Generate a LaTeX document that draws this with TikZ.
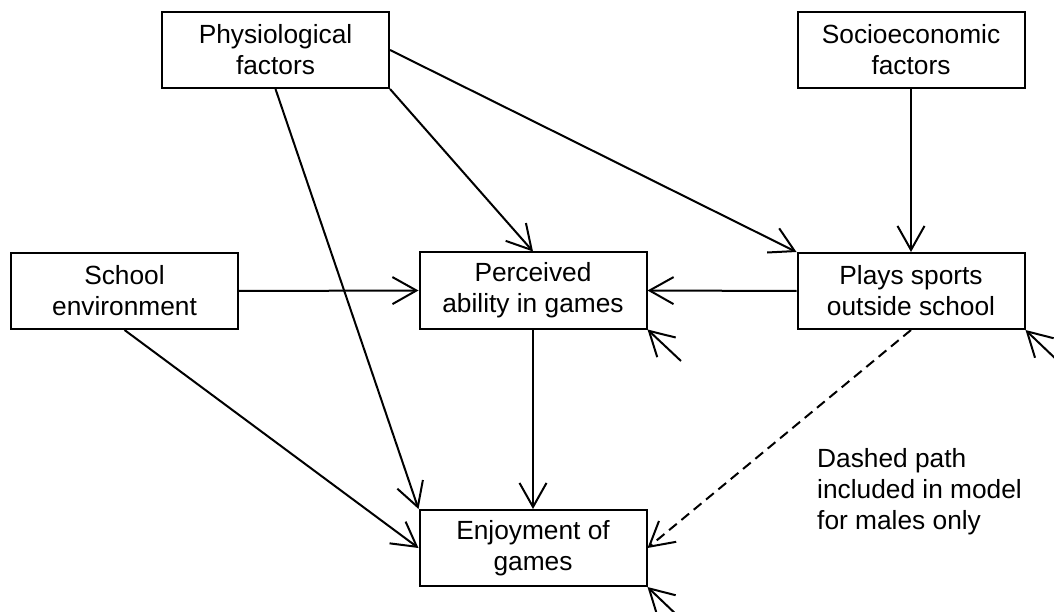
\documentclass[tikz,border=0pt]{standalone}
\usepackage{fontspec}
\setmainfont{Liberation Sans}
\usetikzlibrary{arrows.meta}
\begin{document}
\begin{tikzpicture}[x=1pt,y=-1pt,
  box/.style={draw,line width=2pt,minimum width=227pt,minimum height=76pt,
    inner sep=0pt,align=center,font=\fontsize{26.3}{31}\selectfont},
  link/.style={line width=2pt,-{Straight Barb[length=24pt,width=27pt]}},
  note/.style={align=left,anchor=base west,inner sep=0pt,
    font=\fontsize{26.3}{31}\selectfont}]
\useasboundingbox (0,0) rectangle (1054,612);
% variables
\node[box] (phys)  at (275.5,50)  {Physiological\\factors};
\node[box] (socio) at (911,50)    {Socioeconomic\\factors};
\node[box] (school)at (124.5,291) {School\\environment};
\node[box] (perc)  at (533,290.5) {Perceived\\ability in games};
\node[box] (plays) at (911,291)   {Plays sports\\outside school};
\node[box] (enjoy) at (533,548)   {Enjoyment of\\games};
% error terms
\coordinate (eperc)  at (681,361);
\coordinate (eplays) at (1059,362);
\coordinate (eenjoy) at (681,619);
% paths
\draw[link] (phys.south east) -- (perc.north);
\draw[link] (phys.east) -- (plays.north west);
\draw[link] (phys.south) -- (enjoy.north west);
\draw[link] (socio.south) -- (plays.north);
\draw[link] (school.east) -- (perc.west);
\draw[link] (plays.west) -- (perc.east);
\draw[link] (school.south) -- (enjoy.west);
\draw[link] (perc.south) -- (enjoy.north);
\draw[link,dash pattern=on 10pt off 6pt] (plays.south) -- (enjoy.east);
\draw[link] (eperc) -- (perc.south east);
\draw[link] (eplays) -- (plays.south east);
\draw[link] (eenjoy) -- (enjoy.south east);
% note (anchored at the baseline of its last line)
\node[note] (dnote) at (817,529) {Dashed path\\included in model\\for males only};
\end{tikzpicture}
\end{document}
